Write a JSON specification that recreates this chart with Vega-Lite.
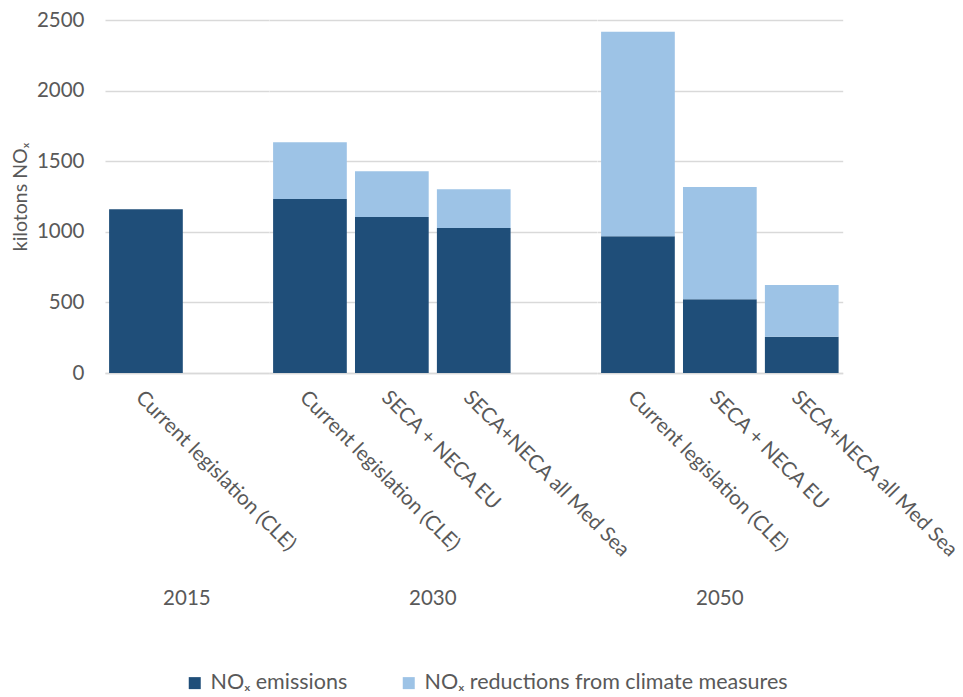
{
  "$schema": "https://vega.github.io/schema/vega-lite/v6.json",
  "padding": {"top": 10, "left": 10, "right": 5, "bottom": 5},
  "background": "#ffffff",
  "data": {
    "values": [
      {"year": "2015", "slot": "Current legislation (CLE)", "series": "NOₓ emissions", "kt": 1160},
      {"year": "2015", "slot": "gap", "series": "NOₓ emissions", "kt": 0},
      {"year": "2030", "slot": "Current legislation (CLE)", "series": "NOₓ emissions", "kt": 1232},
      {"year": "2030", "slot": "Current legislation (CLE)", "series": "NOₓ reductions from climate measures", "kt": 402},
      {"year": "2030", "slot": "SECA + NECA EU", "series": "NOₓ emissions", "kt": 1105},
      {"year": "2030", "slot": "SECA + NECA EU", "series": "NOₓ reductions from climate measures", "kt": 323},
      {"year": "2030", "slot": "SECA+NECA all Med Sea", "series": "NOₓ emissions", "kt": 1027},
      {"year": "2030", "slot": "SECA+NECA all Med Sea", "series": "NOₓ reductions from climate measures", "kt": 274},
      {"year": "2030", "slot": "gap", "series": "NOₓ emissions", "kt": 0},
      {"year": "2050", "slot": "Current legislation (CLE)", "series": "NOₓ emissions", "kt": 968},
      {"year": "2050", "slot": "Current legislation (CLE)", "series": "NOₓ reductions from climate measures", "kt": 1449},
      {"year": "2050", "slot": "SECA + NECA EU", "series": "NOₓ emissions", "kt": 522},
      {"year": "2050", "slot": "SECA + NECA EU", "series": "NOₓ reductions from climate measures", "kt": 795},
      {"year": "2050", "slot": "SECA+NECA all Med Sea", "series": "NOₓ emissions", "kt": 257},
      {"year": "2050", "slot": "SECA+NECA all Med Sea", "series": "NOₓ reductions from climate measures", "kt": 366}
    ]
  },
  "facet": {
    "column": {
      "field": "year",
      "type": "ordinal",
      "header": {
        "title": null,
        "labelOrient": "bottom",
        "labelFont": "Lato",
        "labelFontSize": 20.5,
        "labelColor": "#595959",
        "labelPadding": 216
      }
    }
  },
  "spacing": 0,
  "bounds": "flush",
  "resolve": {"scale": {"x": "independent"}, "axis": {"x": "independent"}},
  "spec": {
    "width": {"step": 81.9},
    "height": 353,
    "mark": {"type": "bar"},
    "encoding": {
      "x": {
        "field": "slot",
        "type": "nominal",
        "sort": null,
        "scale": {"paddingInner": 0.1, "paddingOuter": 0.05},
        "axis": {
          "title": null,
          "labelExpr": "datum.value == 'gap' ? '' : datum.value",
          "labelAngle": 45,
          "labelAlign": "left",
          "labelBaseline": "top",
          "labelPadding": 14,
          "labelLimit": 400,
          "ticks": false,
          "domainColor": "#d9d9d9",
          "domainWidth": 1.3
        }
      },
      "y": {
        "field": "kt",
        "type": "quantitative",
        "stack": "zero",
        "scale": {"domain": [0, 2500], "nice": false},
        "axis": {
          "title": "kilotons NOₓ",
          "values": [0, 500, 1000, 1500, 2000, 2500],
          "format": "d",
          "ticks": false,
          "domain": false,
          "labelPadding": 21,
          "titlePadding": 6,
          "gridColor": "#d9d9d9",
          "gridWidth": 1.3
        }
      },
      "color": {
        "field": "series",
        "type": "nominal",
        "scale": {
          "domain": ["NOₓ emissions", "NOₓ reductions from climate measures"],
          "range": ["#1F4E79", "#9DC3E6"]
        },
        "legend": {
          "title": null,
          "orient": "bottom",
          "direction": "horizontal",
          "symbolType": "square",
          "symbolSize": 144,
          "symbolStrokeWidth": 0,
          "labelFontSize": 21.5,
          "labelColor": "#595959",
          "labelLimit": 600,
          "labelOffset": 5,
          "columnPadding": 50,
          "offset": 62
        }
      },
      "order": {"field": "series", "sort": "ascending"}
    }
  },
  "config": {
    "font": "Lato",
    "view": {"stroke": null},
    "axis": {
      "labelFont": "Lato",
      "labelFontSize": 20.5,
      "labelColor": "#595959",
      "titleFont": "Lato",
      "titleFontSize": 19.5,
      "titleFontWeight": "normal",
      "titleColor": "#595959"
    },
    "legend": {"labelFont": "Lato", "layout": {"bottom": {"anchor": "middle"}}}
  }
}
